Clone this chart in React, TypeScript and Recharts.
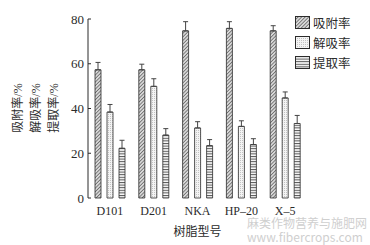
import { BarChart, Bar, XAxis, YAxis, ErrorBar } from 'recharts'

const resins = ['D101', 'D201', 'NKA', 'HP–20', 'X–5']
const adsorption = [57.3, 57.3, 74.7, 75.8, 74.7]
const adsorptionErr = [3.3, 2.5, 4.1, 3.0, 2.3]
const desorption = [38.4, 49.9, 31.3, 32.0, 44.7]
const desorptionErr = [3.4, 3.4, 2.8, 2.5, 2.7]
const extraction = [22.2, 28.1, 23.4, 23.9, 33.3]
const extractionErr = [3.6, 2.9, 2.7, 2.6, 3.6]
const yTicks = [0, 20, 40, 60, 80]

const seriesNames = ['吸附率', '解吸率', '提取率']
const patternIds = ['pat-adsorb', 'pat-desorb', 'pat-extract']

const data = resins.map((name, i) => ({
  name,
  adsorption: adsorption[i],
  adsorptionErr: [0, adsorptionErr[i]],
  desorption: desorption[i],
  desorptionErr: [0, desorptionErr[i]],
  extraction: extraction[i],
  extractionErr: [0, extractionErr[i]],
}))

const FONT = '"Times New Roman", "Liberation Serif", Tinos, "Noto Sans CJK SC", serif'
const INK = '#2b2b2b'

function LegendBox() {
  return (
    <div style={{ position: 'absolute', left: 295, top: 12, fontFamily: FONT, fontSize: 12.5, color: INK }}>
      {seriesNames.map((n, i) => (
        <div key={n} style={{ display: 'flex', alignItems: 'center', height: 20 }}>
          <svg width={15} height={13} style={{ marginRight: 3 }}>
            <rect x={0.5} y={0.5} width={14} height={12} fill={`url(#${patternIds[i]})`} stroke={INK} strokeWidth={1} />
          </svg>
          <span>{n}</span>
        </div>
      ))}
    </div>
  )
}

function YTitle() {
  const cols = ['吸附率/%', '解吸率/%', '提取率/%']
  const xs = [18, 36, 54]
  return (
    <g>
      {cols.map((c, i) => (
        <text
          key={c}
          x={xs[i]}
          y={108}
          transform={`rotate(-90 ${xs[i]} 108)`}
          textAnchor="middle"
          dominantBaseline="central"
          fontSize={12}
          fontFamily={FONT}
          fill={INK}
        >
          {c}
        </text>
      ))}
    </g>
  )
}

export default function App() {
  return (
    <div style={{ position: 'absolute', left: 0, top: 0, width: 370, height: 245, background: '#fff' }}>
      <BarChart
        width={370}
        height={245}
        data={data}
        margin={{ top: 19, right: 63, bottom: 0, left: 0 }}
        barSize={6}
        barGap={6}
      >
        <defs>
          <pattern id="pat-adsorb" width={2.5} height={2.5} patternUnits="userSpaceOnUse" patternTransform="rotate(45)">
            <rect width={2.5} height={2.5} fill="#d8d8d8" />
            <line x1={0} y1={0} x2={0} y2={2.5} stroke="#444" strokeWidth={1.2} />
          </pattern>
          <pattern id="pat-desorb" width={2} height={2} patternUnits="userSpaceOnUse">
            <rect width={2} height={2} fill="#f4f4f4" />
            <rect width={1} height={1} fill="#c4c4c4" />
          </pattern>
          <pattern id="pat-extract" width={3} height={2.6} patternUnits="userSpaceOnUse">
            <rect width={3} height={2.6} fill="#fafafa" />
            <line x1={0} y1={0.5} x2={3} y2={0.5} stroke="#555" strokeWidth={1} />
          </pattern>
        </defs>
        <XAxis
          dataKey="name"
          axisLine={false}
          tickLine={false}
          tickSize={0}
          tickMargin={8}
          height={47}
          interval={0}
          tick={{ fontSize: 12, fontFamily: FONT, fill: INK }}
          label={{ value: '树脂型号', position: 'insideBottom', offset: 9, fontSize: 12, fontFamily: FONT, fill: INK }}
        />
        <YAxis
          domain={[0, 80]}
          ticks={yTicks}
          width={88}
          tickSize={-3}
          tickMargin={7}
          axisLine={{ stroke: INK }}
          tickLine={{ stroke: INK }}
          tick={{ fontSize: 13, fontFamily: FONT, fill: INK }}
          label={() => <YTitle />}
        />
        <Bar dataKey="adsorption" fill="url(#pat-adsorb)" stroke={INK} strokeWidth={0.8} isAnimationActive={false}>
          <ErrorBar dataKey="adsorptionErr" width={2.5} stroke="#444" strokeWidth={1} />
        </Bar>
        <Bar dataKey="desorption" fill="url(#pat-desorb)" stroke={INK} strokeWidth={0.8} isAnimationActive={false}>
          <ErrorBar dataKey="desorptionErr" width={2.5} stroke="#444" strokeWidth={1} />
        </Bar>
        <Bar dataKey="extraction" fill="url(#pat-extract)" stroke={INK} strokeWidth={0.8} isAnimationActive={false}>
          <ErrorBar dataKey="extractionErr" width={2.5} stroke="#444" strokeWidth={1} />
        </Bar>
      </BarChart>
      <LegendBox />
      <div
        style={{
          position: 'absolute', left: 247, top: 216, fontFamily: '"Noto Sans CJK SC", sans-serif',
          fontSize: 12, lineHeight: '14px', color: '#cfcfcf', whiteSpace: 'nowrap', pointerEvents: 'none',
        }}
      >
        <div>麻类作物营养与施肥网</div>
        <div>www.fibercrops.com</div>
      </div>
    </div>
  )
}
